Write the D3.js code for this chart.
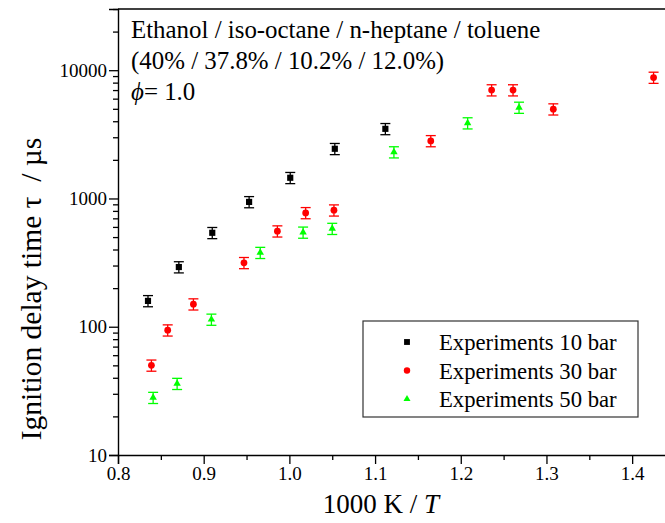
<!DOCTYPE html>
<html>
<head>
<meta charset="utf-8">
<script src="https://cdn.jsdelivr.net/npm/d3@7"></script>
<style>
  body { margin: 0; background: #fff; }
  svg { display: block; font-family: "Liberation Serif", "Times New Roman", serif; }
</style>
</head>
<body>
<div id="chart"></div>
<script>
const WIDTH = 665;
const HEIGHT = 523;

// 1000 K / T and ignition delay time (µs), error bars are +-10 %
const x10 = [0.835, 0.871, 0.910, 0.953, 1.001, 1.053, 1.112];
const tau10 = [159, 292, 540, 940, 1450, 2440, 3490];
const x30 = [0.839, 0.858, 0.888, 0.947, 0.986, 1.019, 1.052, 1.165, 1.236, 1.261, 1.308, 1.425];
const tau30 = [50, 94, 150, 315, 556, 772, 810, 2810, 7000, 7000, 4970, 8770];
const x50 = [0.841, 0.869, 0.909, 0.966, 1.016, 1.050, 1.122, 1.208, 1.268];
const tau50 = [28, 36, 114, 378, 544, 582, 2300, 3870, 5120];
const relErr = 0.1;

const xTicks = [0.8, 0.9, 1.0, 1.1, 1.2, 1.3, 1.4];
const yTicks = [10, 100, 1000, 10000];
const titleLines = ["Ethanol / iso-octane / n-heptane / toluene", "(40% / 37.8% / 10.2% / 12.0%)"];

const series = [
    { name: "Experiments 10 bar", x: x10, y: tau10, color: "#000000", symbol: d3.symbolSquare, size: 38 },
    { name: "Experiments 30 bar", x: x30, y: tau30, color: "#ff0000", symbol: d3.symbolCircle, size: 36 },
    { name: "Experiments 50 bar", x: x50, y: tau50, color: "#00ff00", symbol: d3.symbolTriangle, size: 24 }
];

const margin = { left: 118, top: 9, right: -10, bottom: 68 };

let svg = d3.select("#chart")
    .append("svg")
    .attr("width", WIDTH)
    .attr("height", HEIGHT);

let x = d3.scaleLinear()
    .domain([0.8, 1.45])
    .range([margin.left, WIDTH - margin.right]);
let y = d3.scaleLog()
    .domain([10, 30000])
    .range([HEIGHT - margin.bottom, margin.top]);

// minor ticks
let xMinor = d3.range(0.85, 1.46, 0.1);
let yMinor = [];
for (let d = 10; d < 30000; d *= 10) {
    for (let k = 2; k <= 9; k++) if (d * k <= 30000) yMinor.push(d * k);
}

svg.append("g")
    .attr("transform", `translate(0,${y(10)})`)
    .call(d3.axisBottom(x).tickValues(xTicks).tickFormat(d3.format(".1f")).tickSize(9).tickPadding(3));
svg.append("g")
    .attr("transform", `translate(0,${y(10)})`)
    .call(d3.axisBottom(x).tickValues(xMinor).tickFormat("").tickSize(5))
    .select(".domain").remove();

svg.append("g")
    .attr("transform", `translate(${x(0.8)},0)`)
    .call(d3.axisLeft(y).tickValues(yTicks).tickFormat(d3.format("d")).tickSize(9).tickPadding(2));
svg.append("g")
    .attr("transform", `translate(${x(0.8)},0)`)
    .call(d3.axisLeft(y).tickValues(yMinor).tickFormat("").tickSize(5))
    .select(".domain").remove();

svg.selectAll(".domain").attr("stroke-width", 1.4);
svg.selectAll(".tick line").attr("stroke-width", 1.3);
svg.selectAll(".tick text")
    .attr("font-size", 19)
    .style("font-family", "'Liberation Serif', 'Times New Roman', serif")
    .attr("fill", "#000");

// top frame line
svg.append("line")
    .attr("x1", x(0.8)).attr("x2", WIDTH)
    .attr("y1", y(30000)).attr("y2", y(30000))
    .attr("stroke", "#000").attr("stroke-width", 1.4);

// error bars + markers
series.forEach(s => {
    let pts = s.x.map((d, i) => ({ x: d, y: s.y[i] }));
    let g = svg.append("g");
    let eb = g.selectAll(".eb").data(pts).enter().append("g")
        .attr("stroke", s.color).attr("stroke-width", 1.3);
    eb.append("line")
        .attr("x1", d => x(d.x)).attr("x2", d => x(d.x))
        .attr("y1", d => y(d.y * (1 - relErr))).attr("y2", d => y(d.y * (1 + relErr)));
    eb.append("line")
        .attr("x1", d => x(d.x) - 5).attr("x2", d => x(d.x) + 5)
        .attr("y1", d => y(d.y * (1 - relErr))).attr("y2", d => y(d.y * (1 - relErr)));
    eb.append("line")
        .attr("x1", d => x(d.x) - 5).attr("x2", d => x(d.x) + 5)
        .attr("y1", d => y(d.y * (1 + relErr))).attr("y2", d => y(d.y * (1 + relErr)));
    g.selectAll(".pt").data(pts).enter().append("path")
        .attr("d", d3.symbol().type(s.symbol).size(s.size))
        .attr("transform", d => `translate(${x(d.x)},${y(d.y)})`)
        .attr("fill", s.color);
});

// legend
let legend = svg.append("g").attr("transform", "translate(363,321)");
legend.append("rect")
    .attr("width", 275).attr("height", 96)
    .attr("fill", "#fff").attr("stroke", "#333").attr("stroke-width", 1.2);
series.forEach((s, i) => {
    let row = legend.append("g").attr("transform", `translate(0,${21 + i * 28.5})`);
    row.append("path")
        .attr("d", d3.symbol().type(s.symbol).size(s.size * 0.9))
        .attr("transform", "translate(44,0)")
        .attr("fill", s.color);
    row.append("text")
        .attr("x", 76).attr("y", 8)
        .attr("font-size", 22.7)
        .text(s.name);
});

// annotation
let note = svg.append("text").attr("font-size", 24.9);
titleLines.forEach((t, i) => {
    note.append("tspan").attr("x", 131).attr("y", 38 + i * 31).text(t);
});
let phi = svg.append("text").attr("x", 131).attr("y", 100).attr("font-size", 24.9);
phi.append("tspan").attr("font-style", "italic").text("\u03d5");
phi.append("tspan").text("= 1.0");

// axis titles
let xl = svg.append("text")
    .attr("x", 381).attr("y", 513)
    .attr("text-anchor", "middle")
    .attr("font-size", 27);
xl.append("tspan").text("1000 K / ");
xl.append("tspan").attr("font-style", "italic").text("T");

svg.append("text")
    .attr("transform", `translate(41,289) rotate(-90)`)
    .attr("text-anchor", "middle")
    .attr("font-size", 29.5)
    .style("white-space", "pre")
    .text("Ignition delay time \u03c4  / \u00b5s");
</script>
</body>
</html>
